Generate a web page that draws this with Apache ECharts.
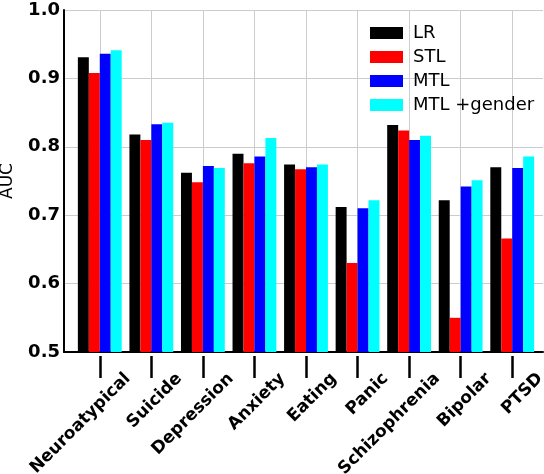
<!DOCTYPE html>
<html>
<head>
<meta charset="utf-8">
<script src="https://cdn.jsdelivr.net/npm/echarts@6/dist/echarts.min.js"></script>
<style>
  html, body { margin: 0; padding: 0; background: #fff; }
  #chart { width: 544px; height: 474px; }
</style>
</head>
<body>
<div id="chart"></div>
<script>
const categories = ["Neuroatypical", "Suicide", "Depression", "Anxiety", "Eating", "Panic", "Schizophrenia", "Bipolar", "PTSD"];
const lr = [0.931, 0.818, 0.762, 0.790, 0.774, 0.712, 0.832, 0.722, 0.770];
const stl = [0.908, 0.810, 0.748, 0.776, 0.767, 0.630, 0.824, 0.550, 0.666];
const mtl = [0.936, 0.833, 0.772, 0.786, 0.770, 0.710, 0.810, 0.742, 0.769];
const mtlGender = [0.941, 0.835, 0.769, 0.813, 0.774, 0.722, 0.816, 0.751, 0.786];
const yTicks = [0.5, 0.6, 0.7, 0.8, 0.9, 1.0];

const font = "DejaVu Sans";
const chart = echarts.init(document.getElementById("chart"));

// bars live in grid 0; grid 1 carries the axis lines; grid 2 the vertical
// lines through category centres; grid 3 the (shifted) category labels
const barLeft = 74, barRight = 6;
const half = (544 - barLeft - barRight) / categories.length / 2;
const labelShift = 28;

const bar = (name, data, color) => ({
  name: name,
  type: "bar",
  xAxisIndex: 0,
  yAxisIndex: 0,
  data: data,
  itemStyle: { color: color },
  barGap: "0%",
  barCategoryGap: "15%"
});

const hiddenY = (gridIndex) => ({
  type: "value",
  gridIndex: gridIndex,
  min: yTicks[0],
  max: yTicks[yTicks.length - 1],
  show: false
});

chart.setOption({
  animation: false,
  textStyle: { fontFamily: font },
  legend: {
    orient: "vertical",
    left: 365,
    top: 19,
    itemWidth: 33,
    itemHeight: 12,
    itemGap: 6,
    icon: "rect",
    textStyle: { fontFamily: font, fontSize: 18, color: "#000", padding: [0, 0, 0, 5] },
    data: ["LR", "STL", "MTL", "MTL +gender"]
  },
  grid: [
    { left: barLeft, right: barRight, top: 10, bottom: 122, outerBoundsMode: "none" },
    { left: 64, right: 1, top: 10, bottom: 122, outerBoundsMode: "none" },
    { left: barLeft + half, right: barRight + half, top: 10, bottom: 122, outerBoundsMode: "none" },
    { left: barLeft + half + labelShift, right: barRight + half - labelShift, top: 10, bottom: 122, outerBoundsMode: "none" }
  ],
  xAxis: [
    {
      type: "category",
      gridIndex: 0,
      data: categories,
      offset: 4,
      axisLine: { show: false },
      axisTick: { show: true, interval: 0, alignWithLabel: true, length: 22, lineStyle: { color: "#000", width: 2.5 } },
      axisLabel: { show: false, interval: 0 },
      splitLine: { show: false }
    },
    {
      type: "value",
      gridIndex: 1,
      min: 0,
      max: 1,
      axisLine: { show: true, onZero: false, lineStyle: { color: "#000", width: 2 } },
      axisTick: { show: false },
      axisLabel: { show: false },
      splitLine: { show: false }
    },
    {
      type: "category",
      gridIndex: 2,
      data: categories,
      boundaryGap: false,
      axisLine: { show: false },
      axisTick: { show: false },
      axisLabel: { show: false, interval: 0 },
      splitLine: { show: true, interval: 0, lineStyle: { color: "#ccc", width: 1 } }
    },
    {
      type: "category",
      gridIndex: 3,
      data: categories,
      boundaryGap: false,
      axisLine: { show: false },
      axisTick: { show: false },
      axisLabel: { interval: 0, rotate: 45, margin: 24, fontFamily: font, fontSize: 17, fontWeight: "bold", color: "#000" },
      splitLine: { show: false }
    }
  ],
  yAxis: [
    hiddenY(0),
    {
      type: "value",
      gridIndex: 1,
      min: yTicks[0],
      max: yTicks[yTicks.length - 1],
      interval: 0.1,
      name: "AUC",
      nameLocation: "middle",
      nameGap: 48,
      nameTextStyle: { fontFamily: font, fontSize: 17, color: "#000" },
      axisLine: { show: true, lineStyle: { color: "#000", width: 2 } },
      axisTick: { show: false },
      axisLabel: { fontFamily: font, fontSize: 18, fontWeight: "bold", color: "#000", margin: 4, formatter: v => v.toFixed(1) },
      splitLine: { show: true, lineStyle: { color: "#ccc", width: 1 } }
    },
    hiddenY(2),
    hiddenY(3)
  ],
  series: [
    bar("LR", lr, "#000000"),
    bar("STL", stl, "#ff0000"),
    bar("MTL", mtl, "#0000ff"),
    bar("MTL +gender", mtlGender, "#00ffff")
  ]
});
</script>
</body>
</html>
